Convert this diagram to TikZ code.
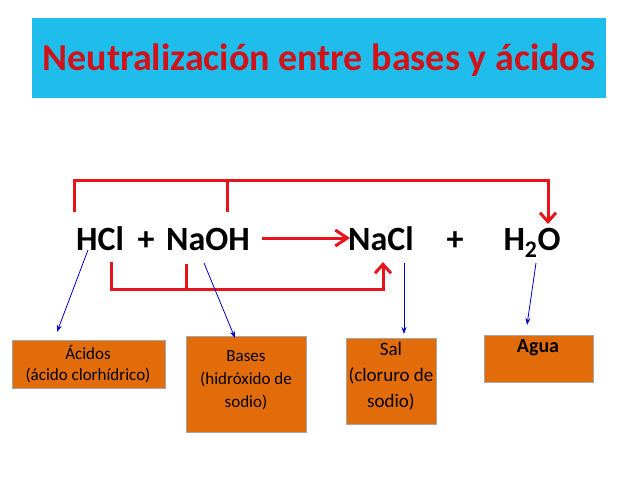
\documentclass[tikz,border=0pt]{standalone}
\usepackage{fontspec}
\setmainfont{Carlito}
\usetikzlibrary{arrows.meta}
\definecolor{banner}{HTML}{1FBDEB}
\definecolor{boxorange}{HTML}{E36C0A}
\definecolor{linkred}{HTML}{E8141B}
\tikzset{
  formula/.style={font=\fontsize{34}{40}\selectfont\bfseries, inner sep=0pt, anchor=base},
  labelbox/.style={draw=gray!70, line width=0.8pt, fill=boxorange, align=center,
    anchor=north west, inner sep=0pt},
  boxtext/.style={anchor=north, align=center},
  redline/.style={linkred, line width=3pt},
  blueline/.style={blue!80!black, line width=0.8pt, -{Stealth[length=7pt,width=5pt]}}
}
\begin{document}
\begin{tikzpicture}[x=1pt,y=-1pt]
  \useasboundingbox (0,0) rectangle (638,479);
  \fill[banner] (32,18) rectangle (606,98);
  \node (title) at (319,60) {\textcolor{linkred!90!black}{\fontsize{38}{44}\selectfont\bfseries Neutralización entre bases y ácidos}};
  % formula row
  \node[formula] (hcl) at (100,250) {HCl};
  \node[formula] (plus1) at (146,250) {+};
  \node[formula] (naoh) at (208,250) {NaOH};
  \node[formula] (nacl) at (381,250) {NaCl};
  \node[formula] (plus2) at (455,250) {+};
  \node[formula] (water) at (532,250) {H$_{\mathbf 2}$O};
  \draw[redline, -{Straight Barb[length=12pt,width=16pt]}] (262,238) -- (350,238);
  % top bracket
  \coordinate (t1) at (74,212);
  \coordinate (t2) at (227,212);
  \draw[redline] (t1) |- (548,180) -- (548,206);
  \draw[redline, -{Straight Barb[length=9pt,width=16pt]}] (548,200) -- (548,224);
  \draw[redline] (t2) -- (227,180);
  % bottom bracket
  \coordinate (b1) at (111,262);
  \coordinate (b2) at (186,264);
  \draw[redline] (b1) |- (383,289) -- (383,275);
  \draw[redline, -{Straight Barb[length=9pt,width=16pt]}] (383,280) -- (383,262);
  \draw[redline] (b2) -- (186,289);
  % label boxes
  \node[labelbox, minimum width=153, minimum height=48] (acid) at (12,340) {};
  \node[boxtext, font=\fontsize{17}{21}\selectfont] (acidtxt) at (88,342) {Ácidos\\(ácido clorhídrico)};
  \node[labelbox, minimum width=120, minimum height=96] (base) at (186,336) {};
  \node[boxtext, font=\fontsize{17}{23}\selectfont] (basetxt) at (246,347) {Bases\\(hidróxido de\\sodio)};
  \node[labelbox, minimum width=90, minimum height=86] (salt) at (346,338) {};
  \node[boxtext, font=\fontsize{19}{26}\selectfont] (salttxt) at (391,339) {Sal\\(cloruro de\\sodio)};
  \node[labelbox, minimum width=109, minimum height=47] (agua) at (484,335) {};
  \node[boxtext, font=\fontsize{20}{24}\selectfont\bfseries] (aguatxt) at (538,336) {Agua};
  % pointers
  \draw[blueline] (88,250) -- (57,332);
  \draw[blueline] (204,263) -- (235,338);
  \draw[blueline] (404,263) -- (404,334);
  \draw[blueline] (536,263) -- (527,325);
\end{tikzpicture}
\end{document}
